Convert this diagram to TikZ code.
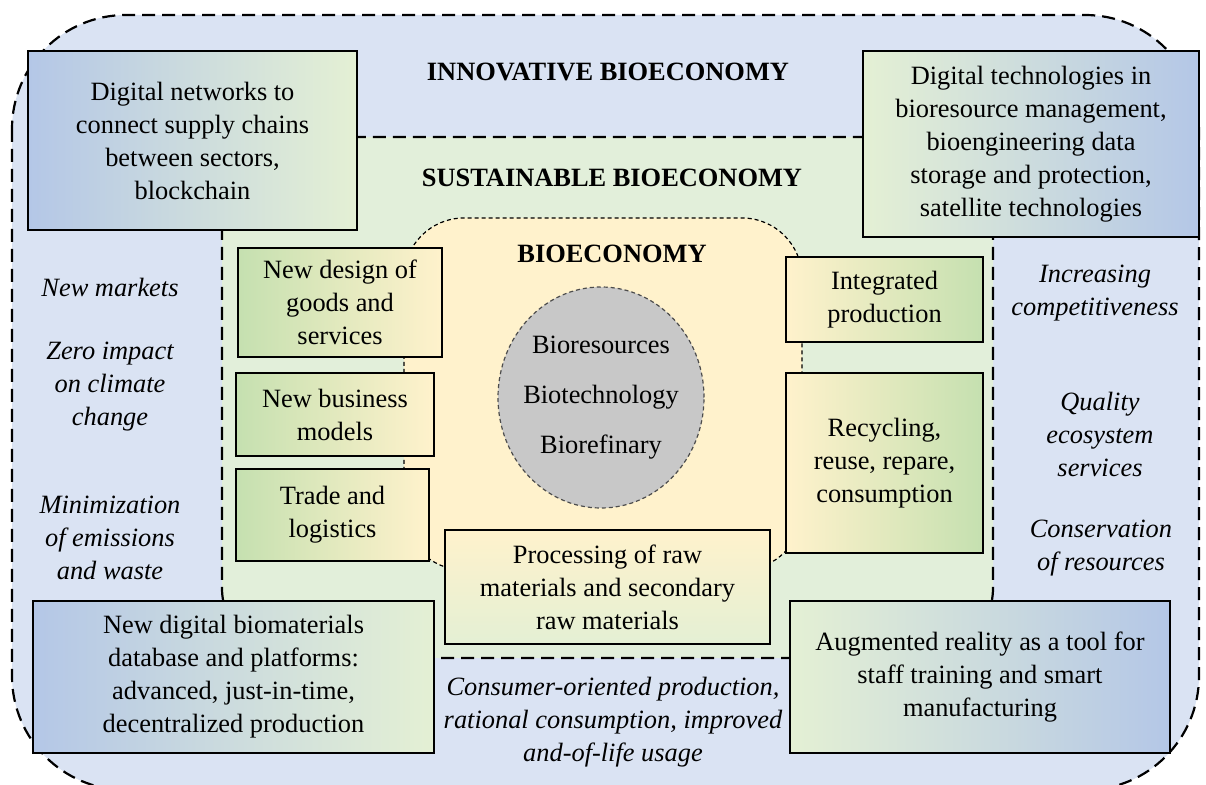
\documentclass[tikz,border=0pt]{standalone}
\usepackage{fontspec}
\setmainfont{Liberation Serif}
\usepackage{xcolor}
\usetikzlibrary{shapes.geometric, positioning}
\definecolor{outerblue}{RGB}{218,227,243}
\definecolor{susgreen}{RGB}{226,239,218}
\definecolor{bioyellow}{RGB}{255,242,204}
\definecolor{boxblue}{RGB}{180,199,231}
\definecolor{boxpale}{RGB}{228,240,212}
\definecolor{boxgreen}{RGB}{197,224,176}
\definecolor{coregray}{RGB}{200,200,200}
\newcommand{\diagfont}{\fontsize{13.2pt}{16.5pt}\selectfont}
\tikzset{
    zone/.style={
        line width=1.1pt,
        dash pattern=on 6.5pt off 3.5pt,
    },
    biozone/.style={
        line width=0.6pt,
        dash pattern=on 2pt off 1.5pt,
    },
    bigbox/.style={
        draw=black,
        line width=1.2pt,
        align=center,
        inner sep=0pt,
        font=\diagfont,
    },
    smallbox/.style={
        draw=black,
        line width=1.2pt,
        align=center,
        inner sep=0pt,
        font=\diagfont,
    },
    heading/.style={
        font=\diagfont\bfseries,
    },
    gain/.style={
        align=center,
        font=\diagfont\itshape,
    },
}

\begin{document}
\begin{tikzpicture}[x=0.5pt, y=-0.5pt]
    \useasboundingbox (0,0) rectangle (1206,785);

    \draw[zone, fill=outerblue, rounded corners=57pt] (12,15) rectangle (1199,790);

    \draw[zone, fill=susgreen, rounded corners=35pt] (222,137) rectangle (993,658);

    \draw[biozone, fill=bioyellow, rounded corners=30pt] (404,218) rectangle (802,570);

    \node[heading] (innov) at (608,72) {INNOVATIVE BIOECONOMY};
    \node[heading] (sustain) at (612,178) {SUSTAINABLE BIOECONOMY};
    \node[heading] (bio) at (612,254) {BIOECONOMY};

    \node[ellipse, draw=black!70, biozone, fill=coregray, inner sep=0pt,
          minimum width=103pt, minimum height=110.5pt] (core) at (601,397.5) {};
    \node[align=center, font=\diagfont] (corelabel) at (core.center)
          {Bioresources\\[8.5pt]Biotechnology\\[8.5pt]Biorefinary};

    \node[bigbox, left color=boxblue, right color=boxpale, minimum width=164.5pt, minimum height=89.5pt]
        (networks) at (192.5,140.5) {Digital networks to\\connect supply chains\\between sectors,\\blockchain};

    \node[bigbox, left color=boxpale, right color=boxblue, minimum width=168pt, minimum height=93pt]
        (tech) at (1031,144) {Digital technologies in\\bioresource management,\\bioengineering data\\storage and protection,\\satellite technologies};

    \node[bigbox, left color=boxblue, right color=boxpale, minimum width=200.5pt, minimum height=76pt]
        (database) at (233.5,677) {New digital biomaterials\\database and platforms:\\advanced, just-in-time,\\decentralized production};

    \node[bigbox, left color=boxpale, right color=boxblue, minimum width=190pt, minimum height=76pt]
        (reality) at (980,677) {Augmented reality as a tool for\\staff training and smart\\manufacturing};

    \node[smallbox, left color=boxgreen, right color=bioyellow, minimum width=102pt, minimum height=54.5pt]
        (design) at (340,302.5) {New design of\\goods and\\services};

    \node[smallbox, left color=boxgreen, right color=bioyellow, minimum width=99pt, minimum height=41.5pt]
        (business) at (335,414.5) {New business\\models};

    \node[smallbox, left color=boxgreen, right color=bioyellow, minimum width=96.5pt, minimum height=46pt]
        (trade) at (332.5,515) {Trade and\\logistics};

    \node[smallbox, left color=bioyellow, right color=boxgreen, minimum width=98.5pt, minimum height=42.5pt]
        (integrated) at (884.5,299.5) {Integrated\\production};

    \node[smallbox, left color=bioyellow, right color=boxgreen, minimum width=98.5pt, minimum height=90pt]
        (recycling) at (884.5,463) {Recycling,\\reuse, repare,\\consumption};

    \node[smallbox, top color=bioyellow, bottom color=boxpale, minimum width=162.5pt, minimum height=57pt]
        (processing) at (607.5,587) {Processing of raw\\materials and secondary\\raw materials};

    \node[gain] (markets) at (110,287) {New markets};
    \node[gain] (climate) at (110,387) {Zero impact\\on climate\\change};
    \node[gain] (emissions) at (110,538) {Minimization\\of emissions\\and waste};

    \node[gain] (compete) at (1095,293) {Increasing\\competitiveness};
    \node[gain] (quality) at (1100,434) {Quality\\ecosystem\\services};
    \node[gain] (conserve) at (1101,548) {Conservation\\of resources};

    \node[gain] (consumer) at (613,722) {Consumer-oriented production,\\rational consumption, improved\\and-of-life usage};
\end{tikzpicture}
\end{document}
